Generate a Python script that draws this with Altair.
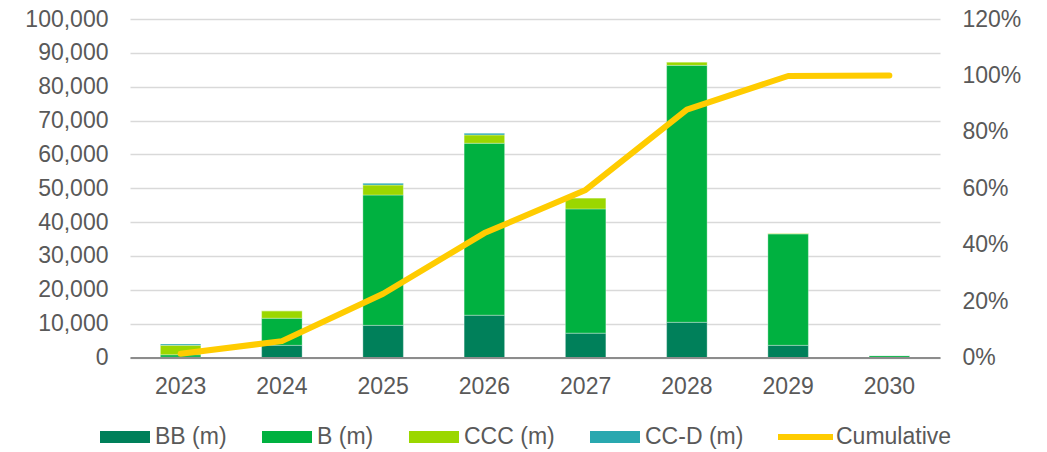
import altair as alt
import pandas as pd

# Issuance by rating bucket (in millions) per maturity year
years = ["2023", "2024", "2025", "2026", "2027", "2028", "2029", "2030"]
bb = [100, 3600, 9500, 12500, 7200, 10400, 3600, 100]
b = [700, 8000, 38500, 50800, 36700, 75900, 32900, 500]
ccc = [2800, 2200, 2950, 2450, 3250, 1000, 200, 0]
ccd = [400, 0, 500, 500, 0, 0, 0, 0]
cumulative = [0.013, 0.058, 0.226, 0.441, 0.594, 0.879, 0.998, 1.0]

series = ["BB (m)", "B (m)", "CCC (m)", "CC-D (m)"]
colors = ["#00805A", "#00B140", "#9BD700", "#29A8AF"]
line_name = "Cumulative"
line_color = "#FFCC00"

left_ticks = list(range(0, 100001, 10000))
right_ticks = [0, 0.2, 0.4, 0.6, 0.8, 1.0, 1.2]

FONT = "Liberation Sans"
TEXT = "#595959"

bar_rows = []
for k, (name, vals) in enumerate(zip(series, [bb, b, ccc, ccd])):
    for yr, v in zip(years, vals):
        bar_rows.append({"year": yr, "series": name, "value": v, "idx": k})
bar_df = pd.DataFrame(bar_rows)

line_df = pd.DataFrame({"year": years, "cum": cumulative, "name": line_name})

x_enc = alt.X(
    "year:N",
    sort=years,
    title=None,
    scale=alt.Scale(paddingInner=0.6, paddingOuter=0.3),
    axis=alt.Axis(
        ticks=False, grid=False, labelAngle=0, labelFont=FONT, labelFontSize=23,
        labelColor=TEXT, labelPadding=18, domainColor="#8C8C8C", domainWidth=1.8,
        zindex=1,
    ),
)

bars = alt.Chart(bar_df).mark_bar(
    stroke="white", strokeWidth=0.7, strokeOpacity=0.45
).encode(
    x=x_enc,
    y=alt.Y(
        "value:Q",
        stack="zero",
        title=None,
        scale=alt.Scale(domain=[0, 100000], nice=False),
        axis=alt.Axis(
            values=left_ticks, format=",.0f", ticks=False, domain=False,
            grid=True, gridColor="#D9D9D9", gridWidth=1.3,
            labelFont=FONT, labelFontSize=23, labelColor=TEXT, labelPadding=22,
        ),
    ),
    color=alt.Color(
        "series:N",
        scale=alt.Scale(domain=series, range=colors),
        legend=alt.Legend(
            title=None, orient="none", legendX=-30, legendY=393,
            direction="horizontal", symbolType="M-1,-0.24H1V0.24H-1Z",
            symbolSize=2500, symbolStrokeWidth=0, symbolOpacity=1,
            labelFont=FONT, labelFontSize=23, labelColor=TEXT,
            labelOffset=5, columnPadding=35,
        ),
    ),
    order=alt.Order("idx:Q"),
)

line = alt.Chart(line_df).mark_line(
    strokeWidth=6, strokeCap="round", strokeJoin="round"
).encode(
    x=alt.X("year:N", sort=years),
    y=alt.Y(
        "cum:Q",
        title=None,
        scale=alt.Scale(domain=[0, 1.2], nice=False),
        axis=alt.Axis(
            orient="right", values=right_ticks, format=".0%", ticks=False,
            domain=False, grid=False,
            labelFont=FONT, labelFontSize=23, labelColor=TEXT, labelPadding=22,
        ),
    ),
    stroke=alt.Stroke(
        "name:N",
        scale=alt.Scale(domain=[line_name], range=[line_color]),
        legend=alt.Legend(
            title=None, orient="none", legendX=645, legendY=387.5,
            symbolType="stroke", symbolSize=3025, symbolStrokeWidth=6,
            labelFont=FONT, labelFontSize=23, labelColor=TEXT, labelOffset=0,
        ),
    ),
)

chart = (
    alt.layer(bars, line)
    .resolve_scale(y="independent", color="independent")
    .properties(
        width=810,
        height=338.5,
        autosize=alt.AutoSizeParams(type="none"),
        padding={"left": 130, "top": 19, "right": 107, "bottom": 94.5},
        background="white",
    )
    .configure_view(stroke=None)
)

chart.save("out.html", embed_options={"renderer": "svg", "actions": False})
